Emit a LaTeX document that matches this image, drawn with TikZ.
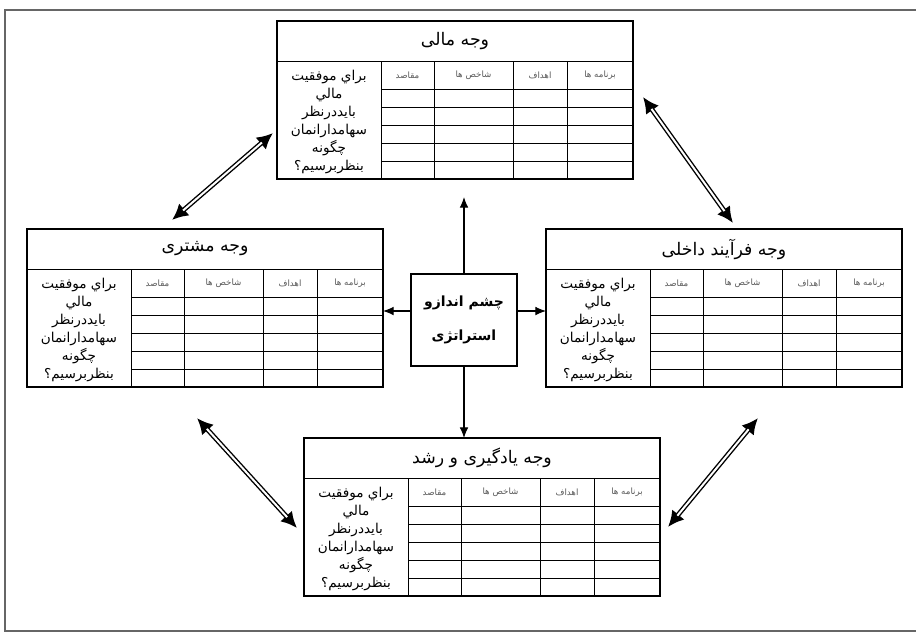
\documentclass[tikz,border=0pt]{standalone}
\usepackage{fontspec}
\usetikzlibrary{arrows.meta}
\TeXXeTstate=1
\newfontfamily\farsi[Script=Arabic]{DejaVu Sans}
\tikzset{
  tbl/.style={draw, line width=0.8pt, inner sep=0pt, outer sep=0pt, minimum width=267pt, minimum height=118.5pt, anchor=north west},
  grid/.style={line width=0.7pt},
  ttl/.style={font=\farsi\fontsize{13}{15}\selectfont},
  hdr/.style={font=\farsi\fontsize{6.5}{8}\selectfont, text=black!65},
  body/.style={font=\farsi\fontsize{10.2}{13.5}\selectfont, align=center, inner sep=0pt},
  arr/.style={-{Latex[length=8pt,width=6.5pt]}, line width=0.8pt},
  dblout/.style={line width=3.6pt, {Latex[length=12pt,width=12pt]}-{Latex[length=12pt,width=12pt]}},
  dblin/.style={white, line width=1.5pt, shorten <=11pt, shorten >=11pt},
  vbox/.style={draw, line width=0.8pt, minimum width=79.5pt, minimum height=69pt, align=center, font=\farsi\bfseries\fontsize{10.5}{26}\selectfont}
}
\newcommand\facetable[4]{%
\begin{scope}[shift={(#2,#3)}]
  \node[tbl] (#1) at (0,0) {};
  \draw[grid] (0,40) -- (356,40);
  \foreach \yy in {68,86,104,122,140} \draw[grid] (104,\yy) -- (356,\yy);
  \foreach \xx in {104,157,236,290} \draw[grid] (\xx,40) -- (\xx,158);
  \node[ttl] (#1-t) at (178,20) {#4};
  \node[hdr] (#1-h1) at (130.5,54) {\beginR مقاصد\endR};
  \node[hdr] (#1-h2) at (196.5,54) {\beginR شاخص ها\endR};
  \node[hdr] (#1-h3) at (263,54) {\beginR اهداف\endR};
  \node[hdr] (#1-h4) at (323,54) {\beginR برنامه ها\endR};
  \node[body] (#1-b) at (52,101) {\beginR براي موفقيت\endR\\\beginR مالي\endR\\\beginR بايددرنظر\endR\\\beginR سهامدارانمان\endR\\\beginR چگونه\endR\\\beginR بنظربرسيم؟\endR};
\end{scope}}
\begin{document}
\begin{tikzpicture}[x=0.75pt,y=-0.75pt]
\useasboundingbox (0,0) rectangle (916,633);
\draw[black!60, line width=1.3pt] (916,10) -- (5,10) -- (5,631) -- (916,631);
\facetable{T}{277}{21}{\beginR وجه مالی\endR}
\facetable{L}{27}{229}{\beginR وجه مشتری\endR}
\facetable{R}{546}{229}{\beginR وجه فرآیند داخلی\endR}
\facetable{B}{304}{438}{\beginR وجه یادگیری و رشد\endR}
\node[vbox] (V) at (464,320) {\beginR چشم اندازو\endR\\\beginR استراتژی\endR};
\coordinate (up) at (464,197);
\draw[arr] (V.north) -- (up);
\draw[arr] ([yshift=6.75pt]V.west) -- ([yshift=6.75pt]V.west -| L.east);
\draw[arr] ([yshift=6.75pt]V.east) -- ([yshift=6.75pt]V.east -| R.west);
\draw[arr] (V.south) -- (V.south |- B.north);
\coordinate (a1) at (172,220); \coordinate (a2) at (273,133);
\coordinate (b1) at (643,97);  \coordinate (b2) at (733,223);
\coordinate (c1) at (197,418); \coordinate (c2) at (297,528);
\coordinate (d1) at (758,418); \coordinate (d2) at (668,527);
\foreach \p/\q in {a1/a2, b1/b2, c1/c2, d1/d2} {
  \draw[dblout] (\p) -- (\q);
  \draw[dblin] (\p) -- (\q);
}
\end{tikzpicture}
\end{document}
